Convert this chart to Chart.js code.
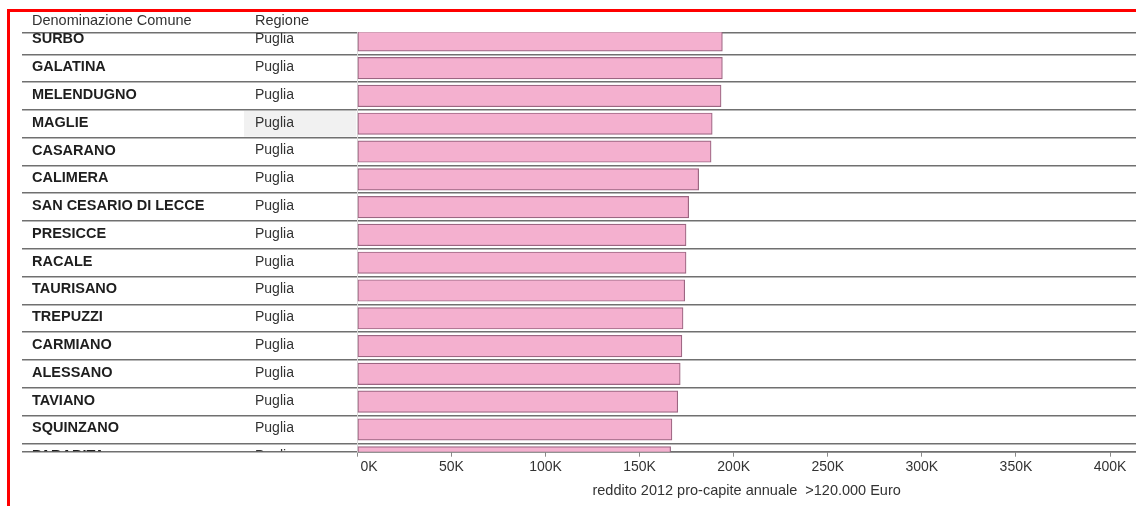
<!DOCTYPE html>
<html>
<head>
<meta charset="utf-8">
<script src="https://cdn.jsdelivr.net/npm/chart.js@4/dist/chart.umd.min.js"></script>
<style>
  html, body { margin: 0; padding: 0; background: #ffffff; }
  #wrap { position: relative; width: 1136px; height: 506px; overflow: hidden; }
  #frame {
    position: absolute; left: 7px; top: 9px; right: -10px; bottom: -10px;
    border-left: 3px solid #ff0000; border-top: 3px solid #ff0000;
    pointer-events: none;
  }
</style>
</head>
<body>
<div id="wrap">
  <canvas id="c" width="1136" height="506"></canvas>
  <div id="frame"></div>
</div>
<script>
// Comuni ordered by income, with their region
const comuni = [
  'SURBO', 'GALATINA', 'MELENDUGNO', 'MAGLIE', 'CASARANO', 'CALIMERA',
  'SAN CESARIO DI LECCE', 'PRESICCE', 'RACALE', 'TAURISANO', 'TREPUZZI',
  'CARMIANO', 'ALESSANO', 'TAVIANO', 'SQUINZANO', 'PARABITA'
];
const regioni = [
  'Puglia', 'Puglia', 'Puglia', 'Puglia', 'Puglia', 'Puglia', 'Puglia', 'Puglia',
  'Puglia', 'Puglia', 'Puglia', 'Puglia', 'Puglia', 'Puglia', 'Puglia', 'Puglia'
];
// reddito 2012 pro-capite annuale (Euro)
const reddito = [
  194000, 194000, 193300, 188600, 188000, 181400, 176100, 174700,
  174700, 174000, 173100, 172500, 171600, 170300, 167200, 166500
];
const xTickStep = 50000;
const xTickMax = 400000;
const intestazioni = ['Denominazione Comune', 'Regione'];
const titoloAsse = 'reddito 2012 pro-capite annuale  >120.000 Euro';

const FONT = '"Liberation Sans", Arial, Helvetica, sans-serif';
const LINE = '#707070';

// visible slice of the scrolled row list (row i is centred on value i)
const rowTop = -0.29;
const rowBottom = 14.8;

const tabella = {
  id: 'tabella',
  beforeDraw(chart) {
    const ctx = chart.ctx;
    const y = chart.scales.y;
    // hovered cell in the Regione column
    ctx.save();
    ctx.fillStyle = '#f1f1f1';
    const t = y.getPixelForValue(2.5) + 1;
    const b = y.getPixelForValue(3.5) - 1;
    ctx.fillRect(244, t, chart.chartArea.left - 245, b - t);
    ctx.restore();
  },
  afterDraw(chart) {
    const ctx = chart.ctx;
    const y = chart.scales.y;
    const area = chart.chartArea;
    ctx.save();
    ctx.textBaseline = 'middle';
    ctx.textAlign = 'left';
    // column headers
    ctx.fillStyle = '#333333';
    ctx.font = '14.5px ' + FONT;
    ctx.fillText(intestazioni[0], 32, 20.5);
    ctx.fillText(intestazioni[1], 255, 20.5);
    // row cells, clipped to the scrolled pane
    ctx.beginPath();
    ctx.rect(22, area.top + 0.5, area.left - 22, area.bottom - area.top - 1);
    ctx.clip();
    comuni.forEach((nome, i) => {
      const py = y.getPixelForValue(i) - 1;
      ctx.fillStyle = '#1e1e1e';
      ctx.font = 'bold 14.5px ' + FONT;
      ctx.fillText(nome, 32, py);
      ctx.fillStyle = '#333333';
      ctx.font = '14px ' + FONT;
      ctx.fillText(regioni[i], 255, py);
    });
    ctx.restore();
  }
};

new Chart(document.getElementById('c'), {
  type: 'bar',
  data: {
    datasets: [{
      data: reddito.map((v, i) => ({ x: v, y: i })),
      backgroundColor: '#f4b0cf',
      borderColor: '#9c6682',
      borderWidth: 1.2,
      borderSkipped: false,
      barThickness: 21.5,
      clip: 0
    }]
  },
  options: {
    indexAxis: 'y',
    responsive: false,
    animation: false,
    devicePixelRatio: 1,
    layout: { padding: { left: 22, top: 32.3, right: 0, bottom: 0 } },
    plugins: { legend: { display: false }, tooltip: { enabled: false } },
    scales: {
      x: {
        type: 'linear',
        position: 'bottom',
        min: 0,
        max: 413800,
        offset: false,
        afterFit(s) { s.height = 54.3; },
        afterBuildTicks(s) {
          const t = [];
          for (let v = 0; v <= xTickMax; v += xTickStep) t.push({ value: v });
          s.ticks = t;
        },
        ticks: {
          color: '#333333',
          font: { family: FONT, size: 14 },
          padding: 2,
          maxRotation: 0,
          autoSkip: false,
          callback: (v) => (v === 0 ? '      0K' : (v / 1000) + 'K')
        },
        grid: { drawOnChartArea: false, drawTicks: true, tickLength: 5, color: '#8a8a8a', lineWidth: 1 },
        border: { display: true, color: LINE, width: 1.5 },
        title: {
          display: true,
          text: titoloAsse,
          color: '#333333',
          font: { family: FONT, size: 14.5 },
          padding: { top: 0, bottom: 6 }
        }
      },
      y: {
        type: 'linear',
        position: 'left',
        reverse: true,
        offset: false,
        min: rowTop,
        max: rowBottom,
        afterFit(s) { s.width = 357.3 - 22; },
        afterBuildTicks(s) {
          const t = [{ value: rowTop }];
          for (let i = 0; i < comuni.length - 1; i++) t.push({ value: i + 0.5 });
          t.push({ value: rowBottom });
          s.ticks = t;
        },
        ticks: { display: false },
        grid: { color: LINE, lineWidth: 1.5, drawTicks: true, tickLength: 335.3, offset: false },
        border: { display: true, color: '#dadada', width: 1 }
      }
    }
  },
  plugins: [tabella]
});
</script>
</body>
</html>
